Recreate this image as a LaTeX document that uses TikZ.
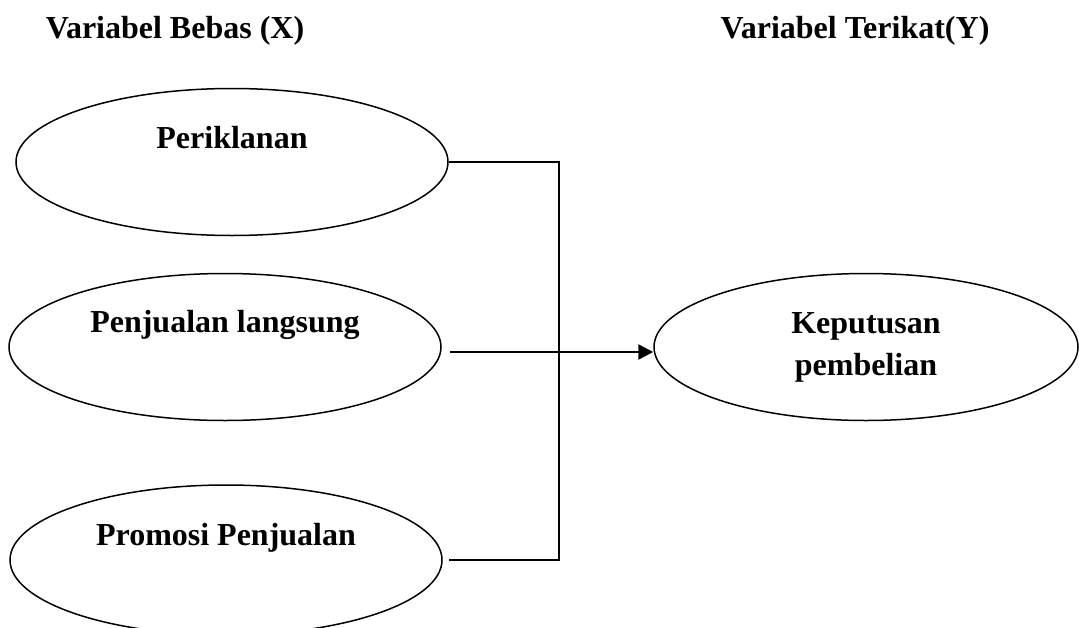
\documentclass[tikz,border=0pt]{standalone}
\usepackage{fontspec}
\setmainfont{Liberation Serif}
\usetikzlibrary{shapes.geometric,arrows.meta}

\tikzset{
  varell/.style={draw=black, line width=1.5pt, ellipse, inner sep=0pt,
    minimum width=432pt, minimum height=147pt},
  vartxt/.style={font=\fontsize{32}{42}\selectfont\bfseries, anchor=base, inner sep=0pt},
  conn/.style={draw=black, line width=1.8pt}
}

\begin{document}
\begin{tikzpicture}[x=1pt,y=-1pt]
\useasboundingbox (0,0) rectangle (1079,627);

%HEADINGS
\node[vartxt] (hx) at (175,38) {Variabel Bebas (X)};
\node[vartxt] (hy) at (855,38) {Variabel Terikat(Y)};

%VARIABEL BEBAS
\node[varell] (p1) at (232,162) {};
\node[vartxt] (t1) at ([yshift=14pt]p1.center) {Periklanan};
\node[varell] (p2) at (225,347) {};
\node[vartxt] (t2) at ([yshift=15pt]p2.center) {Penjualan langsung};
\node[varell, minimum height=150pt] (p3) at (226,560) {};
\node[vartxt] (t3) at ([yshift=15pt]p3.center) {Promosi Penjualan};

%VARIABEL TERIKAT
\node[varell, minimum width=424pt, align=center, font=\fontsize{32}{42}\selectfont\bfseries] (kp) at (866,347) {Keputusan\\pembelian};

%CONNECTORS
\coordinate (jn) at (559,352);
\draw[conn] (p1.east) -- (p1.east -| jn) -- (p3.east -| jn) -- ([xshift=6pt]p3.east);
\draw[conn, line width=1.4pt] ([xshift=8pt]p2.east |- jn) -- (jn);
\draw[conn, line width=2.4pt, -{Triangle[length=15pt,width=15pt]}] (jn) -- (jn -| kp.west);

\end{tikzpicture}
\end{document}
